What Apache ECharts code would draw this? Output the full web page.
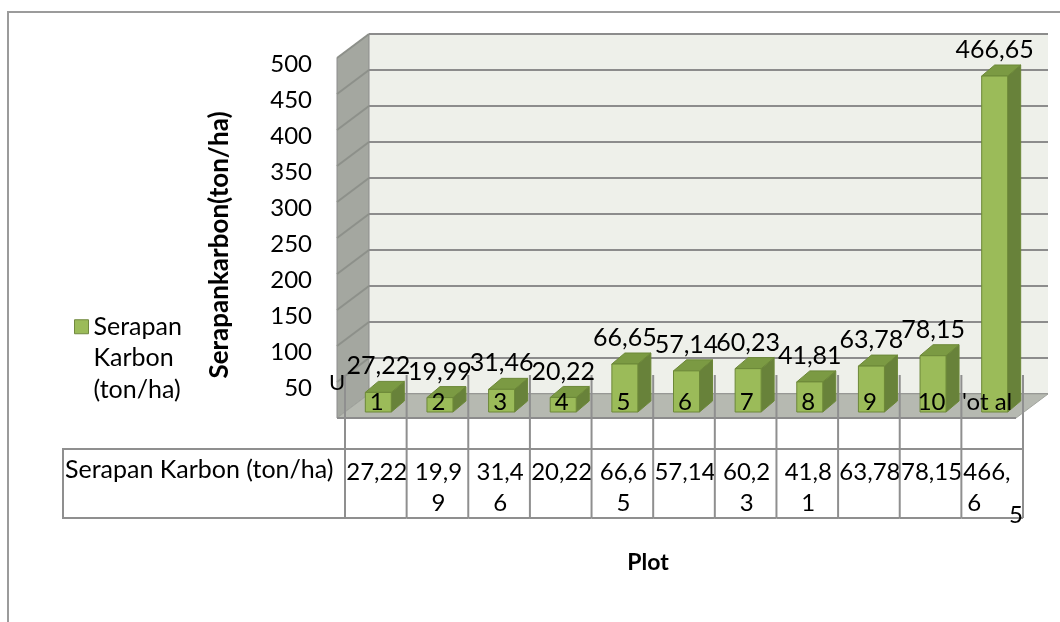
<!DOCTYPE html>
<html>
<head>
<meta charset="utf-8">
<script src="https://cdn.jsdelivr.net/npm/echarts@6/dist/echarts.min.js"></script>
<style>
  html, body { margin: 0; padding: 0; background: #ffffff; }
  #chart { width: 1060px; height: 622px; }
</style>
</head>
<body>
<div id="chart"></div>
<script>
// Plot categories and carbon uptake per plot (ton/ha)
const categories = ['1', '2', '3', '4', '5', '6', '7', '8', '9', '10', "'ot al"];
const carbonValues = [27.22, 19.99, 31.46, 20.22, 66.65, 57.14, 60.23, 41.81, 63.78, 78.15, 466.65];
const yTicks = [0, 50, 100, 150, 200, 250, 300, 350, 400, 450, 500];
// character positions where each data-table cell wraps
const tableSplit = [[], [4], [4], [], [4], [], [4], [4], [], [], [4, 5]];
const seriesName = 'Serapan Karbon (ton/ha)';

const FONT = 'Lato, "Open Sans", sans-serif';
const fmt = v => v.toFixed(2).replace('.', ',');

const C = {
  front: '#9bbb59', top: '#7b9a43', side: '#68823a', edge: '#6c8838',
  backWall: '#eef0ea', sideWall: '#a4a7a0', sideGrid: '#8d908a',
  floor: '#b6b9b1', grid: '#8c8c8c', table: '#8f8f8f'
};

// depth offset from the back wall to the front edge of the floor
const DEPTH = [-32, 24];

function renderWalls(params, api) {
  const bl = api.coord([0, 0]);
  const br = api.coord([1, 0]);
  const tl = api.coord([0, yTicks[yTicks.length - 1]]);
  const f = p => [p[0] + DEPTH[0], p[1] + DEPTH[1]];
  const children = [];
  children.push({
    type: 'polygon',
    shape: { points: [tl, bl, f(bl), f(tl)] },
    style: { fill: C.sideWall, stroke: C.grid, lineWidth: 1 }
  });
  yTicks.forEach(t => {
    if (t === 0) return;
    const p = api.coord([0, t]);
    children.push({
      type: 'line',
      shape: { x1: p[0], y1: p[1], x2: p[0] + DEPTH[0], y2: p[1] + DEPTH[1] },
      style: { stroke: C.sideGrid, lineWidth: 2 }
    });
  });
  children.push({
    type: 'polygon',
    shape: { points: [bl, br, f(br), f(bl)] },
    style: { fill: C.floor, stroke: '#a2a59e', lineWidth: 1 }
  });
  const fb = f(bl), fr = f(br);
  children.push({
    type: 'line',
    shape: { x1: fb[0], y1: fb[1], x2: fr[0], y2: fr[1] },
    style: { stroke: C.grid, lineWidth: 2 }
  });
  return { type: 'group', children };
}

function renderTable(params, api) {
  const i = params.dataIndex;
  const v = api.value(1);
  const base = api.coord([i, 0]);
  const bw = api.size([1, 0])[0];
  const left = base[0] - bw / 2, right = base[0] + bw / 2;
  const y0 = base[1];
  const ls = { stroke: C.table, lineWidth: 2 };
  const children = [
    { type: 'line', shape: { x1: left, y1: y0 - 37, x2: left, y2: y0 + 106 }, style: ls },
    { type: 'line', shape: { x1: left, y1: y0 + 37, x2: right, y2: y0 + 37 }, style: ls },
    { type: 'line', shape: { x1: left, y1: y0 + 106, x2: right, y2: y0 + 106 }, style: ls }
  ];
  if (i === carbonValues.length - 1) {
    children.push({ type: 'line', shape: { x1: right, y1: y0 - 37, x2: right, y2: y0 + 106 }, style: ls });
  }
  const s = fmt(v);
  const cuts = tableSplit[i];
  const pieces = [];
  let prev = 0;
  cuts.forEach(c => { pieces.push(s.slice(prev, c)); prev = c; });
  pieces.push(s.slice(prev));
  const ts = (text, x, y, align) => ({
    type: 'text',
    style: { text, x, y, align, verticalAlign: 'middle', fill: '#000', font: '24px ' + FONT }
  });
  if (pieces.length <= 2) {
    pieces.forEach((p, k) => children.push(ts(p, base[0] + 1, y0 + 60 + k * 31, 'center')));
  } else {
    children.push(ts(pieces[0], left + 2, y0 + 60, 'left'));
    children.push(ts(pieces[1], left + 6, y0 + 91, 'left'));
    children.push(ts(pieces[2], right - 7, y0 + 103, 'center'));
  }
  return { type: 'group', children };
}

function renderBar(params, api) {
  const i = params.dataIndex;
  const v = api.value(1);
  const top = api.coord([i, v]);
  const base = api.coord([i, 0]);
  const fw = 26, dx = 13, dy = -11;
  const fl = top[0] - 10.5, fr = fl + fw;
  const catText = categories[i];
  const catX = catText.length > 3 ? top[0] - 5 : top[0] + 1;
  return {
    type: 'group',
    children: [
      {
        type: 'polygon',
        shape: { points: [[fr, top[1]], [fr + dx, top[1] + dy], [fr + dx, base[1] + dy], [fr, base[1]]] },
        style: { fill: C.side, stroke: C.edge, lineWidth: 1 }
      },
      {
        type: 'polygon',
        shape: { points: [[fl, top[1]], [fr, top[1]], [fr + dx, top[1] + dy], [fl + dx, top[1] + dy]] },
        style: { fill: C.top, stroke: C.edge, lineWidth: 1 }
      },
      {
        type: 'rect',
        shape: { x: fl, y: top[1], width: fw, height: base[1] - top[1] },
        style: { fill: C.front, stroke: C.edge, lineWidth: 1 }
      },
      {
        type: 'text', z2: 10,
        style: {
          text: fmt(v), x: fl + fw / 2, y: top[1] + dy - 15,
          align: 'center', verticalAlign: 'middle', fill: '#000', font: '25px ' + FONT
        }
      },
      {
        type: 'text', z2: 10,
        style: {
          text: catText, x: catX, y: base[1] - 10,
          align: 'center', verticalAlign: 'middle', fill: '#000', font: '24px ' + FONT
        }
      }
    ]
  };
}

const chart = echarts.init(document.getElementById('chart'), null, { renderer: 'canvas' });

chart.setOption({
  animation: false,
  backgroundColor: '#ffffff',
  textStyle: { fontFamily: FONT },
  grid: [
    { left: 345, right: 37, top: 52, bottom: 210 },
    { left: 369, right: 12, top: 34, bottom: 228, show: true, backgroundColor: C.backWall, borderWidth: 0 }
  ],
  xAxis: [
    {
      type: 'category', gridIndex: 0, data: categories,
      axisLine: { show: false }, axisTick: { show: false }, axisLabel: { show: false }
    },
    {
      type: 'value', gridIndex: 1, min: 0, max: 1, show: false
    }
  ],
  yAxis: [
    {
      type: 'value', gridIndex: 0, min: 0, max: 500, interval: 50,
      axisLine: { show: false }, axisTick: { show: false }, splitLine: { show: false },
      axisLabel: {
        showMinLabel: false, margin: 33, color: '#000',
        fontSize: 24, fontFamily: FONT, verticalAlign: 'top'
      }
    },
    {
      type: 'value', gridIndex: 1, min: 0, max: 500, interval: 50,
      axisLine: { show: false }, axisTick: { show: false }, axisLabel: { show: false },
      splitLine: { show: true, lineStyle: { color: C.grid, width: 2 } }
    }
  ],
  legend: {
    data: [seriesName],
    left: 74, top: 248, padding: 0,
    icon: 'rect', itemWidth: 14, itemHeight: 14,
    selectedMode: false,
    formatter: name => '\n\n' + name.replace(/ /g, '\n'),
    itemStyle: { color: C.front, borderColor: '#71893f', borderWidth: 1 },
    textStyle: { fontSize: 25, fontFamily: FONT, color: '#000', lineHeight: 31.5 }
  },
  series: [
    {
      name: 'walls', type: 'custom', xAxisIndex: 1, yAxisIndex: 1, z: 1, silent: true,
      data: [[0, 0]], renderItem: renderWalls
    },
    {
      name: 'table', type: 'custom', xAxisIndex: 0, yAxisIndex: 0, z: 3, silent: true,
      data: carbonValues.map((v, i) => [i, v]), renderItem: renderTable
    },
    {
      name: seriesName, type: 'custom', xAxisIndex: 0, yAxisIndex: 0, z: 4,
      itemStyle: { color: C.front },
      data: carbonValues.map((v, i) => [i, v]), renderItem: renderBar
    }
  ],
  graphic: [
    {
      type: 'rect', z: 0, silent: true,
      shape: { x: 8, y: 12, width: 1060, height: 620 },
      style: { fill: 'none', stroke: '#9b9b9b', lineWidth: 2 }
    },
    {
      type: 'rect', z: 5, silent: true,
      shape: { x: 63, y: 449, width: 282, height: 69 },
      style: { fill: 'none', stroke: C.table, lineWidth: 2 }
    },
    {
      type: 'text', z: 5, silent: true,
      style: { text: seriesName, x: 65, y: 470, verticalAlign: 'middle', fill: '#000', font: '25px ' + FONT }
    },
    {
      type: 'text', z: 5, silent: true, x: 220, y: 245, rotation: Math.PI / 2,
      style: {
        text: 'Serapankarbon(ton/ha)', x: 0, y: 0, align: 'center', verticalAlign: 'middle',
        fill: '#000', font: 'bold 26px ' + FONT
      }
    },
    {
      type: 'text', z: 5, silent: true,
      style: { text: 'U', x: 337, y: 383, align: 'center', verticalAlign: 'middle', fill: '#000', font: '22px ' + FONT }
    },
    {
      type: 'text', z: 5, silent: true,
      style: { text: 'Plot', x: 648, y: 563, align: 'center', verticalAlign: 'middle', fill: '#000', font: 'bold 23px ' + FONT }
    }
  ]
});
</script>
</body>
</html>
